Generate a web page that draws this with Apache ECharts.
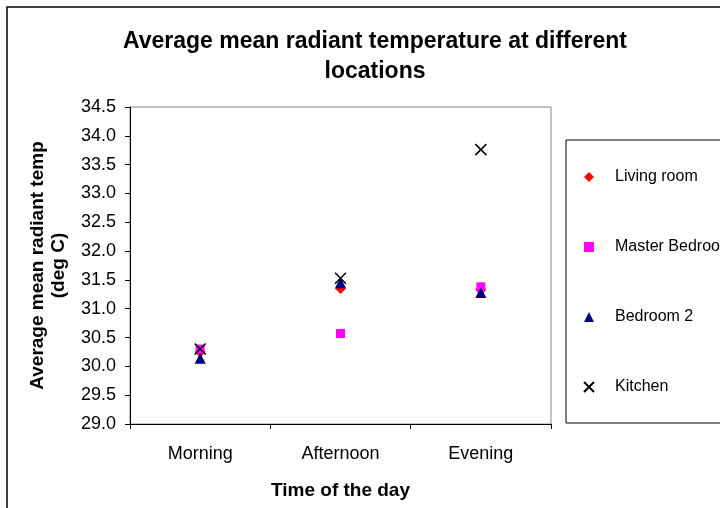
<!DOCTYPE html>
<html>
<head>
<meta charset="utf-8">
<script src="https://cdn.jsdelivr.net/npm/echarts@6/dist/echarts.min.js"></script>
<style>
  html, body { margin: 0; padding: 0; background: #fff; }
  #chart { width: 720px; height: 508px; }
</style>
</head>
<body>
<div id="chart"></div>
<script>
// categories and values
const times = ['Morning', 'Afternoon', 'Evening'];
const livingRoom = [30.25, 31.35, 31.33];
const masterBedroom = [30.3, 30.57, 31.38];
const bedroom2 = [30.14, 31.45, 31.28];
const kitchen = [30.3, 31.53, 33.76];

const crossPath = 'path://M0,0L10,10M10,0L0,10';
const font = '"Liberation Sans", Arial, sans-serif';

const chart = echarts.init(document.getElementById('chart'));

chart.setOption({
  backgroundColor: '#fff',
  animation: false,
  textStyle: { fontFamily: font },
  title: {
    text: 'Average mean radiant temperature at different\nlocations',
    left: 370,
    top: 22,
    textAlign: 'center',
    textStyle: { fontFamily: font, fontSize: 23, fontWeight: 'bold', color: '#000', lineHeight: 30 }
  },
  graphic: [
    { type: 'rect', shape: { x: 7, y: 7, width: 800, height: 600 },
      style: { fill: 'none', stroke: '#000', lineWidth: 1.5 }, z: -1 },
    { type: 'rect', shape: { x: 566, y: 140, width: 200, height: 283 },
      style: { fill: 'none', stroke: '#000', lineWidth: 1 }, z: -1 }
  ],
  legend: {
    orient: 'vertical',
    left: 578,
    top: 164,
    itemWidth: 10,
    itemHeight: 10,
    itemGap: 54,
    textStyle: { fontFamily: font, fontSize: 16, color: '#000', padding: [0, 0, 0, 16] }
  },
  grid: {
    left: 130, right: 169, top: 107, bottom: 84,
    show: true, borderColor: '#888', borderWidth: 1
  },
  xAxis: {
    type: 'category',
    data: times,
    boundaryGap: true,
    name: 'Time of the day',
    nameLocation: 'middle',
    nameGap: 57,
    nameTextStyle: { fontFamily: font, fontSize: 19, fontWeight: 'bold', color: '#000' },
    axisLine: { lineStyle: { color: '#000', width: 1 } },
    axisTick: { show: true, length: 5, lineStyle: { color: '#000' } },
    axisLabel: { fontFamily: font, fontSize: 18, color: '#000', margin: 21 },
    splitLine: { show: false }
  },
  yAxis: {
    type: 'value',
    min: 29,
    max: 34.5,
    interval: 0.5,
    name: 'Average mean radiant temp\n(deg C)',
    nameLocation: 'middle',
    nameRotate: 90,
    nameGap: 61,
    nameTextStyle: { fontFamily: font, fontSize: 19, fontWeight: 'bold', color: '#000', lineHeight: 21 },
    axisLine: { show: true, lineStyle: { color: '#000', width: 1 } },
    axisTick: { show: true, length: 5, lineStyle: { color: '#000' } },
    axisLabel: { fontFamily: font, fontSize: 18, color: '#000', margin: 14,
      formatter: v => v.toFixed(1) },
    splitLine: { show: false }
  },
  series: [
    { name: 'Living room', type: 'scatter', data: livingRoom,
      symbol: 'diamond', symbolSize: 11, itemStyle: { color: '#ff0000', opacity: 1 } },
    { name: 'Master Bedroom', type: 'scatter', data: masterBedroom,
      symbol: 'rect', symbolSize: 9, itemStyle: { color: '#ff00ff', opacity: 1 } },
    { name: 'Bedroom 2', type: 'scatter', data: bedroom2,
      symbol: 'triangle', symbolSize: 11, itemStyle: { color: '#000080', opacity: 1 } },
    { name: 'Kitchen', type: 'scatter', data: kitchen,
      symbol: crossPath, symbolSize: 11,
      itemStyle: { color: 'rgba(0,0,0,0)', borderColor: '#000', borderWidth: 1.5, opacity: 1 } }
  ]
});
</script>
</body>
</html>
